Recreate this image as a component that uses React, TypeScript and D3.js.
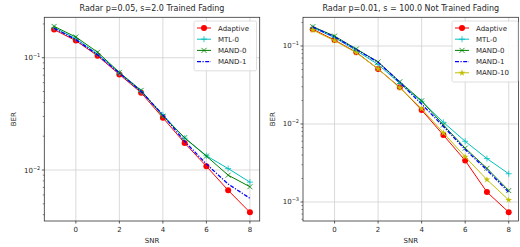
import { useEffect, useRef } from "react";
import * as d3 from "d3";

const snr = [-1, 0, 1, 2, 3, 4, 5, 6, 7, 8];

// left panel: Radar p=0.05, s=2.0 Trained Fading
const leftAdaptive = [0.178, 0.142, 0.104, 0.071, 0.0488, 0.0292, 0.0174, 0.0108, 0.0066, 0.0042];
const leftMtl0 = [0.185, 0.148, 0.108, 0.073, 0.05, 0.031, 0.0192, 0.0134, 0.0103, 0.0078];
const leftMand0 = [0.19, 0.153, 0.112, 0.074, 0.0512, 0.0302, 0.0194, 0.0133, 0.009, 0.0071];
const leftMand1 = [0.183, 0.145, 0.106, 0.073, 0.05, 0.031, 0.018, 0.0113, 0.0075, 0.0056];

// right panel: Radar p=0.01, s = 100.0 Not Trained Fading
const rightAdaptive = [0.164, 0.119, 0.083, 0.0507, 0.0295, 0.0151, 0.0072, 0.0034, 0.00134, 0.00074];
const rightMtl0 = [0.172, 0.128, 0.087, 0.058, 0.033, 0.0195, 0.0105, 0.006, 0.0036, 0.0023];
const rightMand0 = [0.177, 0.134, 0.0916, 0.0624, 0.0348, 0.0198, 0.0097, 0.0049, 0.0027, 0.0014];
const rightMand1 = [0.175, 0.131, 0.09, 0.062, 0.034, 0.018, 0.0093, 0.0047, 0.00257, 0.00133];
const rightMand10 = [0.16, 0.117, 0.082, 0.051, 0.029, 0.0157, 0.0077, 0.0038, 0.00193, 0.00106];

const xTicks = [0, 2, 4, 6, 8];

const styles: Record<string, { color: string; marker: string; dash?: string; width: number }> = {
  "Adaptive": { color: "#ff0000", marker: "circle", width: 1 },
  "MTL-0": { color: "#00bfbf", marker: "plus", width: 1 },
  "MAND-0": { color: "#008000", marker: "x", width: 1 },
  "MAND-1": { color: "#0000ff", marker: "none", dash: "4,1.5,1.2,1.5", width: 1.3 },
  "MAND-10": { color: "#bfbf00", marker: "star", width: 1 },
};

const txt = "#262626";
const font = "DejaVu Sans, sans-serif";

function drawMarker(g: any, kind: string, x: number, y: number, color: string) {
  if (kind === "circle") {
    g.append("circle").attr("cx", x).attr("cy", y).attr("r", 3).attr("fill", color);
  } else if (kind === "plus") {
    g.append("path")
      .attr("d", `M${x - 3},${y}H${x + 3}M${x},${y - 3}V${y + 3}`)
      .attr("stroke", color).attr("stroke-width", 0.8);
  } else if (kind === "x") {
    g.append("path")
      .attr("d", `M${x - 2.5},${y - 2.5}L${x + 2.5},${y + 2.5}M${x - 2.5},${y + 2.5}L${x + 2.5},${y - 2.5}`)
      .attr("stroke", color).attr("stroke-width", 0.8);
  } else if (kind === "star") {
    g.append("path")
      .attr("d", d3.symbol(d3.symbolStar, 14)())
      .attr("transform", `translate(${x},${y})`)
      .attr("fill", color);
  }
}

function panel(svg: any, cfg: any) {
  const { x0, x1, y0, y1, logTop, logBottom, title, series, decades, legendX, legendW } = cfg;
  const x = d3.scaleLinear().domain([-1.45, 8.45]).range([x0, x1]);
  const y = d3.scaleLog().domain([Math.pow(10, logTop), Math.pow(10, logBottom)]).range([y0, y1]);
  const g = svg.append("g");

  // grid
  xTicks.forEach((t) => {
    g.append("line").attr("x1", x(t)).attr("x2", x(t)).attr("y1", y0).attr("y2", y1)
      .attr("stroke", "#d0d0d0").attr("stroke-width", 0.8);
  });
  decades.forEach((d: number) => {
    g.append("line").attr("x1", x0).attr("x2", x1).attr("y1", y(Math.pow(10, d))).attr("y2", y(Math.pow(10, d)))
      .attr("stroke", "#d0d0d0").attr("stroke-width", 0.8);
  });

  // lines + markers
  const marks = g.append("g");
  series.forEach((s: any) => {
    const st = styles[s.name];
    const line = d3.line<number>().x((_, i) => x(snr[i])).y((v) => y(v));
    marks.append("path").attr("d", line(s.values)).attr("fill", "none")
      .attr("stroke", st.color).attr("stroke-width", st.width)
      .attr("stroke-dasharray", st.dash || null);
    s.values.forEach((v: number, i: number) => drawMarker(marks, st.marker, x(snr[i]), y(v), st.color));
  });

  // spines
  g.append("rect").attr("x", x0).attr("y", y0).attr("width", x1 - x0).attr("height", y1 - y0)
    .attr("fill", "none").attr("stroke", "#333").attr("stroke-width", 0.8);

  // x ticks
  xTicks.forEach((t) => {
    g.append("line").attr("x1", x(t)).attr("x2", x(t)).attr("y1", y1).attr("y2", y1 + 2.5)
      .attr("stroke", "#333").attr("stroke-width", 0.8);
    g.append("text").attr("x", x(t)).attr("y", y1 + 10.5).attr("text-anchor", "middle")
      .attr("font-size", 7).attr("fill", txt).text(t);
  });

  // y ticks (log)
  const lo = Math.floor(logBottom), hi = Math.ceil(logTop);
  for (let d = lo; d <= hi; d++) {
    for (let m = 1; m < 10; m++) {
      const v = m * Math.pow(10, d);
      const py = y(v);
      if (py < y0 - 0.1 || py > y1 + 0.1) continue;
      g.append("line").attr("x1", x0).attr("x2", x0 - (m === 1 ? 2.5 : 1.5)).attr("y1", py).attr("y2", py)
        .attr("stroke", "#333").attr("stroke-width", m === 1 ? 0.8 : 0.6);
      if (m === 1) {
        const t = g.append("text").attr("x", x0 - 4).attr("y", py + 2.5).attr("text-anchor", "end")
          .attr("font-size", 7).attr("fill", txt);
        t.append("tspan").text("10");
        t.append("tspan").attr("dy", -3).attr("font-size", 5).text(`\u2212${-d}`);
      }
    }
  }

  // labels
  g.append("text").attr("x", (x0 + x1) / 2).attr("y", 10.5).attr("text-anchor", "middle")
    .attr("font-size", 8).attr("fill", txt).text(title);
  g.append("text").attr("x", (x0 + x1) / 2).attr("y", 243).attr("text-anchor", "middle")
    .attr("font-size", 7).attr("fill", txt).text("SNR");
  g.append("text").attr("transform", `translate(${cfg.berX},${(y0 + y1) / 2}) rotate(-90)`)
    .attr("text-anchor", "middle").attr("font-size", 7).attr("fill", txt).text("BER");

  // legend
  const lg = g.append("g");
  const rowH = 11.2;
  const h = series.length * rowH + 5;
  lg.append("rect").attr("x", legendX).attr("y", 21).attr("width", legendW).attr("height", h)
    .attr("rx", 1.5).attr("fill", "white").attr("fill-opacity", 0.85)
    .attr("stroke", "#d6d6d6").attr("stroke-width", 0.8);
  series.forEach((s: any, i: number) => {
    const st = styles[s.name];
    const ly = 28 + i * rowH;
    lg.append("line").attr("x1", legendX + 3).attr("x2", legendX + 17).attr("y1", ly).attr("y2", ly)
      .attr("stroke", st.color).attr("stroke-width", st.width).attr("stroke-dasharray", st.dash || null);
    drawMarker(lg, st.marker, legendX + 10, ly, st.color);
    lg.append("text").attr("x", legendX + 24).attr("y", ly + 2.5).attr("font-size", 7)
      .attr("fill", txt).text(s.name);
  });
}

export default function App() {
  const svgRef = useRef<SVGSVGElement | null>(null);

  useEffect(() => {
    const svg = d3.select(svgRef.current);
    svg.selectAll("*").remove();
    svg.attr("font-family", font);

    panel(svg, {
      x0: 44.3, x1: 259.7, y0: 17.3, y1: 221,
      logTop: -0.64, logBottom: -2.454, decades: [-1, -2],
      title: "Radar p=0.05, s=2.0 Trained Fading",
      berX: 16, legendX: 194, legendW: 62.5,
      series: [
        { name: "Adaptive", values: leftAdaptive },
        { name: "MTL-0", values: leftMtl0 },
        { name: "MAND-0", values: leftMand0 },
        { name: "MAND-1", values: leftMand1 },
      ],
    });

    panel(svg, {
      x0: 303, x1: 518.5, y0: 17.3, y1: 221,
      logTop: -0.632, logBottom: -3.244, decades: [-1, -2, -3],
      title: "Radar p=0.01, s = 100.0 Not Trained Fading",
      berX: 275, legendX: 452, legendW: 66,
      series: [
        { name: "Adaptive", values: rightAdaptive },
        { name: "MTL-0", values: rightMtl0 },
        { name: "MAND-0", values: rightMand0 },
        { name: "MAND-1", values: rightMand1 },
        { name: "MAND-10", values: rightMand10 },
      ],
    });
  }, []);

  return (
    <svg
      ref={svgRef}
      width={520}
      height={247}
      style={{ position: "absolute", left: 0, top: 0, background: "white" }}
    ></svg>
  );
}
